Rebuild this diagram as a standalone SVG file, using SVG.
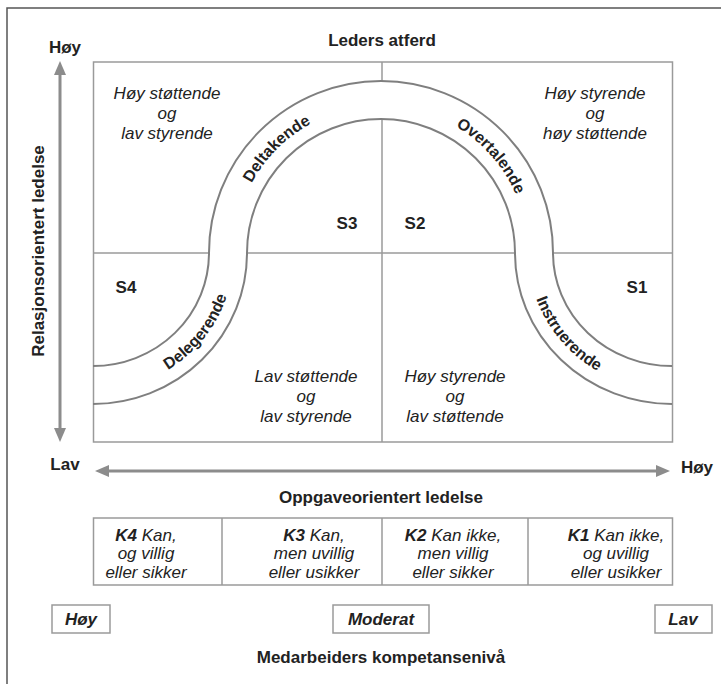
<svg xmlns="http://www.w3.org/2000/svg" width="721" height="684" viewBox="0 0 721 684">
<defs>
<style>
.t{font-family:"Liberation Sans",Arial,sans-serif;fill:#222}
.hd{font-size:17px;font-weight:bold;text-anchor:middle}
.q{font-size:17px;font-style:italic;text-anchor:middle}
.s{font-size:17px;font-weight:bold;text-anchor:middle}
.al{font-size:16px;font-weight:bold}
.k{font-weight:bold}
.bx{fill:none;stroke:#9a9a9a;stroke-width:1.5}
.arch{fill:none;stroke:#7f7f7f;stroke-width:2}
.arr{stroke:#8c8c8c;stroke-width:3;fill:none}
.head{fill:#8c8c8c}
</style>
<path id="pTop" d="M 234,253 A 147,147 0 0 1 528,253"/>
<path id="pLL" d="M 93,391 A 141,138 0 0 0 234,253"/>
<path id="pLR" d="M 528,253 A 144,138 0 0 0 672,391"/>
</defs>
<rect x="0" y="0" width="721" height="684" fill="#fff"/>
<path d="M 7,684 V 8 H 721" fill="none" stroke="#555" stroke-width="1.5"/>

<g id="grid">
<line class="bx" x1="382" y1="62" x2="382" y2="442"/>
<line class="bx" x1="93.5" y1="253" x2="672.5" y2="253"/>
<path d="M 93,366 A 116,113 0 0 0 209,253 A 172,172 0 0 1 553,253 A 119,113 0 0 0 672,366 L 672,404 A 157,151 0 0 1 515,253 A 134,134 0 0 0 247,253 A 154,151 0 0 1 93,404 Z" fill="#fff"/>
<rect class="bx" x="93.5" y="62" width="579" height="380"/>
</g>

<g id="connectors">
<path class="arch" d="M 93,366 A 116,113 0 0 0 209,253 A 172,172 0 0 1 553,253 A 119,113 0 0 0 672,366"/>
<path class="arch" d="M 672,404 A 157,151 0 0 1 515,253 A 134,134 0 0 0 247,253 A 154,151 0 0 1 93,404"/>
<line class="arr" x1="60" y1="72" x2="60" y2="431"/>
<polygon class="head" points="60,61 54,75 66,75"/>
<polygon class="head" points="60,442 54,428 66,428"/>
<line class="arr" x1="105" y1="471" x2="660" y2="471"/>
<polygon class="head" points="95,471 109,465 109,477"/>
<polygon class="head" points="670,471 656,465 656,477"/>
</g>

<g id="arc-labels" class="t al">
<text><textPath href="#pTop" startOffset="25%" text-anchor="middle">Deltakende</textPath></text>
<text><textPath href="#pTop" startOffset="77%" text-anchor="middle">Overtalende</textPath></text>
<text><textPath href="#pLL" startOffset="58%" text-anchor="middle">Delegerende</textPath></text>
<text><textPath href="#pLR" startOffset="43%" text-anchor="middle">Instruerende</textPath></text>
</g>

<g id="titles" class="t hd">
<text x="382" y="46">Leders atferd</text>
<text x="65" y="53">Høy</text>
<text x="65" y="470">Lav</text>
<text x="697" y="473">Høy</text>
<text x="381" y="503">Oppgaveorientert ledelse</text>
<text x="381" y="663">Medarbeiders kompetansenivå</text>
<text transform="translate(44,251) rotate(-90)">Relasjonsorientert ledelse</text>
</g>

<g id="q-tl" class="t q"><text x="167" y="99">Høy støttende</text><text x="167" y="119">og</text><text x="167" y="139">lav styrende</text></g>
<g id="q-tr" class="t q"><text x="595" y="99">Høy styrende</text><text x="595" y="119">og</text><text x="595" y="139">høy støttende</text></g>
<g id="q-bl" class="t q"><text x="306" y="382">Lav støttende</text><text x="306" y="402">og</text><text x="306" y="422">lav styrende</text></g>
<g id="q-br" class="t q"><text x="455" y="382">Høy styrende</text><text x="455" y="402">og</text><text x="455" y="422">lav støttende</text></g>

<g id="styles" class="t s">
<text x="347" y="229">S3</text>
<text x="415" y="229">S2</text>
<text x="126" y="293">S4</text>
<text x="637" y="293">S1</text>
</g>

<g id="table">
<rect class="bx" x="93.5" y="518" width="579" height="67"/>
<line class="bx" x1="222" y1="518" x2="222" y2="585"/>
<line class="bx" x1="382" y1="518" x2="382" y2="585"/>
<line class="bx" x1="528" y1="518" x2="528" y2="585"/>
</g>
<g id="k4" class="t q"><text x="146" y="541"><tspan class="k">K4</tspan> Kan,</text><text x="146" y="559">og villig</text><text x="146" y="578">eller sikker</text></g>
<g id="k3" class="t q"><text x="314" y="541"><tspan class="k">K3</tspan> Kan,</text><text x="314" y="559">men uvillig</text><text x="314" y="578">eller usikker</text></g>
<g id="k2" class="t q"><text x="453" y="541"><tspan class="k">K2</tspan> Kan ikke,</text><text x="453" y="559">men villig</text><text x="453" y="578">eller sikker</text></g>
<g id="k1" class="t q"><text x="616" y="541"><tspan class="k">K1</tspan> Kan ikke,</text><text x="616" y="559">og uvillig</text><text x="616" y="578">eller usikker</text></g>

<g id="lvl-hoy"><rect class="bx" x="52" y="605" width="58" height="28"/><text class="t q k" x="81" y="625">Høy</text></g>
<g id="lvl-moderat"><rect class="bx" x="333" y="605" width="96" height="28"/><text class="t q k" x="381" y="625">Moderat</text></g>
<g id="lvl-lav"><rect class="bx" x="655" y="605" width="57" height="28"/><text class="t q k" x="683" y="625">Lav</text></g>
</svg>
